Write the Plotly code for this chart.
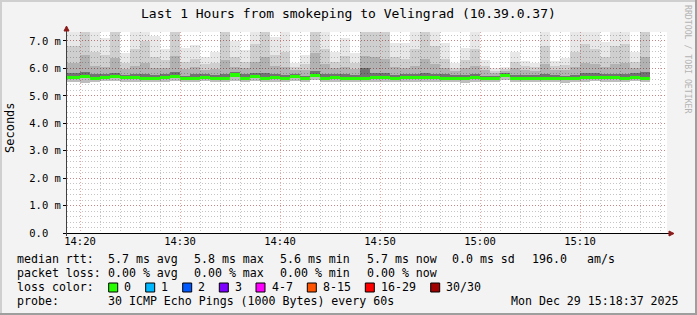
import plotly.graph_objects as go
import pandas as pd

# ---------------- data (values in milliseconds) ----------------
times = pd.date_range("2025-12-29 14:20", periods=58, freq="min")  # end of each 60 s step

maxv = [7.5, 7.5, 7.5, 7.10, 7.5, 6.55, 7.5, 7.5, 7.20, 6.71,
        7.5, 6.73, 6.85, 6.43, 6.61, 7.5, 7.01, 6.67, 7.5, 7.5,
        7.16, 7.5, 6.21, 6.49, 7.5, 7.5, 6.61, 7.12, 6.55, 7.5,
        7.5, 7.5, 6.94, 6.94, 7.5, 7.5, 7.5, 6.94, 6.19, 6.76,
        7.5, 6.31, 6.00, 6.07, 6.59, 6.27, 6.19, 7.5, 6.27, 6.37,
        7.5, 7.5, 7.5, 6.97, 7.5, 7.5, 6.59, 7.5]
p_hi = [6.80, 7.40, 6.60, 6.50, 7.40, 6.20, 6.70, 7.00, 6.40, 6.30,
        7.40, 6.25, 6.35, 6.15, 6.20, 7.40, 6.40, 6.25, 6.90, 7.40,
        6.50, 6.60, 6.05, 6.15, 7.40, 6.70, 6.25, 6.45, 6.20, 7.40,
        7.40, 7.40, 6.40, 6.35, 6.70, 7.40, 6.80, 6.35, 6.02, 6.30,
        6.70, 6.10, 5.92, 5.98, 6.25, 6.08, 6.05, 6.80, 6.08, 6.12,
        6.60, 6.90, 6.70, 6.40, 6.80, 6.90, 6.25, 7.40]
p_mid = [6.20, 6.50, 6.10, 6.05, 6.37, 5.98, 6.10, 6.20, 6.00, 6.02,
         6.45, 5.98, 6.05, 5.95, 5.98, 6.30, 6.05, 6.00, 6.25, 6.40,
         6.10, 6.05, 5.95, 5.95, 6.55, 6.15, 6.00, 6.05, 5.98, 6.45,
         6.40, 6.35, 6.05, 6.02, 6.10, 6.35, 6.15, 6.00, 5.92, 6.00,
         6.10, 5.95, 5.85, 5.90, 6.00, 5.95, 5.92, 6.15, 5.95, 5.96,
         6.05, 6.20, 6.15, 6.05, 6.15, 6.20, 6.00, 6.40]
p_dark = [5.82, 5.86, 5.78, 5.80, 5.85, 5.77, 5.80, 5.80, 5.76, 5.78,
          5.86, 5.74, 5.78, 5.78, 5.77, 5.80, 5.86, 5.78, 5.84, 5.82,
          5.80, 5.76, 5.80, 5.74, 5.90, 5.80, 5.79, 5.78, 5.77, 6.00,
          5.84, 5.82, 5.76, 5.79, 5.80, 5.82, 5.80, 5.78, 5.77, 5.76,
          5.80, 5.74, 5.73, 5.82, 5.77, 5.75, 5.75, 5.80, 5.77, 5.74,
          5.76, 5.82, 5.82, 5.80, 5.80, 5.78, 5.82, 5.86]
median = [5.66, 5.69, 5.65, 5.68, 5.72, 5.66, 5.67, 5.65, 5.62, 5.66,
          5.69, 5.62, 5.65, 5.67, 5.65, 5.62, 5.76, 5.65, 5.71, 5.65,
          5.66, 5.62, 5.70, 5.62, 5.75, 5.65, 5.67, 5.65, 5.65, 5.65,
          5.67, 5.66, 5.62, 5.66, 5.67, 5.66, 5.66, 5.65, 5.65, 5.62,
          5.67, 5.62, 5.63, 5.74, 5.65, 5.63, 5.63, 5.65, 5.65, 5.62,
          5.63, 5.67, 5.68, 5.67, 5.66, 5.62, 5.68, 5.65]
minv = [5.50, 5.48, 5.52, 5.53, 5.55, 5.52, 5.52, 5.51, 5.49, 5.52,
        5.53, 5.50, 5.52, 5.53, 5.50, 5.49, 5.55, 5.52, 5.54, 5.50,
        5.52, 5.49, 5.54, 5.50, 5.56, 5.51, 5.52, 5.51, 5.52, 5.50,
        5.52, 5.51, 5.49, 5.52, 5.52, 5.51, 5.52, 5.51, 5.52, 5.48,
        5.52, 5.49, 5.50, 5.56, 5.52, 5.50, 5.49, 5.51, 5.52, 5.48,
        5.50, 5.52, 5.53, 5.52, 5.52, 5.49, 5.53, 5.51]

y_ticks = [0, 1, 2, 3, 4, 5, 6, 7]
y_tick_labels = ["0.0\u00a0\u00a0", "1.0 m", "2.0 m", "3.0 m", "4.0 m", "5.0 m", "6.0 m", "7.0 m"]
x_tick_start = "2025-12-29 14:20"

title_text = "Last 1 Hours from smokeping to Velingrad (10.39.0.37)"
rtt_label = "median rtt:"
rtt_stats = ["5.7 ms avg", "5.8 ms max", "5.6 ms min", "5.7 ms now", "0.0 ms sd", "196.0", "am/s"]
loss_label = "packet loss:"
loss_stats = ["0.00 % avg", "0.00 % max", "0.00 % min", "0.00 % now"]
color_label = "loss color:"
loss_names = ["0", "1", "2", "3", "4-7", "8-15", "16-29", "30/30"]
loss_colors = ["#26ff00", "#00b8ff", "#0059ff", "#7e00ff", "#ff00ff", "#ff5500", "#ff0000", "#a10000"]
probe_label = "probe:"
probe_text = "30 ICMP Echo Pings (1000 Bytes) every 60s"
stamp_text = "Mon Dec 29 15:18:37 2025"
watermark = "RRDTOOL / TOBI OETIKER"

# ---------------- layout geometry / styles ----------------
W_PX, H_PX = 697, 315
L, R, T, B = 67, 667, 32, 233
PW, PH = R - L, B - T
FONT = "DejaVu Sans Mono"
MEDIAN_HALF = 0.055


def px(x):
    return (x - L) / PW


def py(y):
    return (B - y) / PH


widths = [78000] + [60000] * (len(times) - 1)
offsets = [-w for w in widths]

fig = go.Figure()


def band(lo, hi, color):
    fig.add_trace(go.Bar(
        x=times, base=lo, y=[h - l for l, h in zip(lo, hi)],
        width=widths, offset=offsets, marker=dict(color=color, line=dict(width=0)),
        hoverinfo="skip", showlegend=False))


band(minv, median, "rgba(0,0,0,0.26)")
band(median, p_dark, "rgba(0,0,0,0.55)")
band(p_dark, p_mid, "rgba(0,0,0,0.30)")
band(p_mid, p_hi, "rgba(0,0,0,0.19)")
band(p_hi, maxv, "rgba(0,0,0,0.09)")
band([m - MEDIAN_HALF for m in median], [m + MEDIAN_HALF for m in median], loss_colors[0])

major_grid = "rgba(205,60,60,0.45)"
minor_grid = "#c4c4c4"
dash = "1px,2px"

fig.update_layout(
    width=W_PX, height=H_PX,
    margin=dict(l=L, r=W_PX - R, t=T, b=H_PX - B, pad=0),
    paper_bgcolor="#f3f3f3", plot_bgcolor="#ffffff",
    barmode="overlay", bargap=0, showlegend=False,
    font=dict(family=FONT, size=10.5, color="#000000"),
    xaxis=dict(
        type="date", range=["2025-12-29 14:18:42", "2025-12-29 15:18:42"],
        tickmode="linear", tick0=x_tick_start, dtick=600000,
        tickformat="%H:%M", ticks="", ticklen=0,
        showgrid=True, gridcolor=major_grid, gridwidth=1, griddash=dash,
        minor=dict(tickmode="linear", dtick=120000, tick0=x_tick_start, showgrid=True,
                   gridcolor=minor_grid, griddash=dash, gridwidth=1),
        showline=False, zeroline=False, fixedrange=True,
        tickfont=dict(family=FONT, size=10.5, color="#000000"),
    ),
    yaxis=dict(
        range=[0, PH / 27.43], tickvals=y_ticks, ticktext=y_tick_labels,
        ticks="outside", ticklen=3, tickcolor="#000000", tickwidth=1,
        showgrid=True, gridcolor=major_grid, gridwidth=1, griddash=dash,
        minor=dict(dtick=0.2, tick0=0, showgrid=True,
                   gridcolor=minor_grid, griddash=dash, gridwidth=1),
        showline=False, zeroline=False, fixedrange=True,
        tickfont=dict(family=FONT, size=10.5, color="#000000"),
    ),
)

shapes = []
# frame
shapes.append(dict(type="line", xref="paper", yref="paper", x0=px(1), x1=px(1), y0=py(0), y1=py(315),
                   line=dict(color="#cfcfcf", width=2)))
shapes.append(dict(type="line", xref="paper", yref="paper", x0=px(0), x1=px(697), y0=py(1), y1=py(1),
                   line=dict(color="#cfcfcf", width=2)))
shapes.append(dict(type="line", xref="paper", yref="paper", x0=px(696), x1=px(696), y0=py(0), y1=py(315),
                   line=dict(color="#9e9e9e", width=2)))
shapes.append(dict(type="line", xref="paper", yref="paper", x0=px(0), x1=px(697), y0=py(314), y1=py(314),
                   line=dict(color="#9e9e9e", width=2)))
# axes
shapes.append(dict(type="line", xref="paper", yref="paper", x0=px(63), x1=px(670), y0=py(233.5), y1=py(233.5),
                   line=dict(color="#000000", width=1)))
shapes.append(dict(type="line", xref="paper", yref="paper", x0=px(66.5), x1=px(66.5), y0=py(236), y1=py(29),
                   line=dict(color="#404040", width=1)))
# arrow heads
shapes.append(dict(type="path", xref="paper", yref="paper",
                   path=f"M {px(64)} {py(31)} L {px(69)} {py(31)} L {px(66.5)} {py(26)} Z",
                   fillcolor="#8b1a1a", line=dict(color="#8b1a1a", width=1)))
shapes.append(dict(type="path", xref="paper", yref="paper",
                   path=f"M {px(669)} {py(231)} L {px(669)} {py(236)} L {px(674)} {py(233.5)} Z",
                   fillcolor="#8b1a1a", line=dict(color="#8b1a1a", width=1)))

annotations = []


def text(x, y, s, size=11.6, anchor="left", color="#000000", angle=0):
    annotations.append(dict(xref="paper", yref="paper", x=px(x), y=py(y), text=s, showarrow=False,
                            xanchor=anchor, yanchor="middle", borderpad=0, textangle=angle,
                            font=dict(family=FONT, size=size, color=color)))


text(348.5, 13.5, title_text, size=13, anchor="center")
text(10, 128, "Seconds", size=12, anchor="center", angle=-90)
text(688, 59, watermark, size=8.2, anchor="center", color="#b4b4b4", angle=90)

row_y = [259.3, 273.3, 287.3, 301.3]
stat_x = [107.3, 193.3, 279.3, 365.7, 451, 530.7, 586]
text(16, row_y[0], rtt_label)
for xx, s in zip(stat_x, rtt_stats):
    text(xx, row_y[0], s)
text(16, row_y[1], loss_label)
for xx, s in zip(stat_x, loss_stats):
    text(xx, row_y[1], s)
text(16, row_y[2], color_label)
box_x = [108.7, 145.7, 182.7, 219.3, 256, 307.3, 365.3, 430.7]
for bx, name, col in zip(box_x, loss_names, loss_colors):
    shapes.append(dict(type="rect", xref="paper", yref="paper", x0=px(bx), x1=px(bx + 9),
                       y0=py(292), y1=py(283), fillcolor=col, line=dict(color="#000000", width=1)))
    text(bx + 14.6, row_y[2], name)
text(16, row_y[3], probe_label)
text(107.3, row_y[3], probe_text)
text(680, row_y[3], stamp_text, anchor="right")

fig.update_layout(shapes=shapes, annotations=annotations)
fig.write_html("out.html")
